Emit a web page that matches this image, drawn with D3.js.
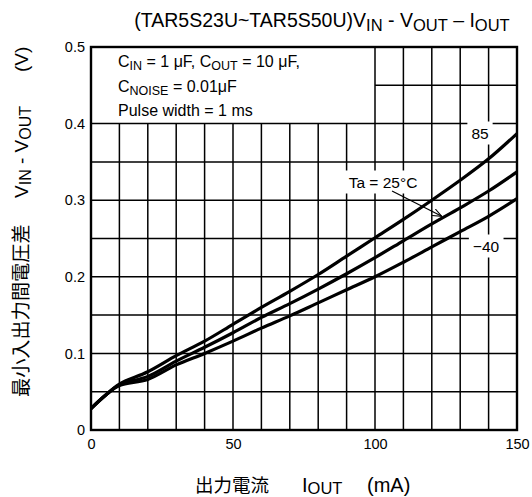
<!DOCTYPE html>
<html><head><meta charset="utf-8">
<script src="https://cdn.jsdelivr.net/npm/d3@7"></script>
<style>
html,body{margin:0;padding:0;background:#fff;}
text{font-family:"Liberation Sans",Arial,sans-serif;fill:#000;}
.cjk{font-family:"Noto Sans CJK JP","Liberation Sans",sans-serif;}
</style></head>
<body><svg id="c" width="532" height="497"></svg>
<script>
// ---- data ----
const iout = [0, 5, 10, 20, 30, 40, 50, 60, 70, 80, 90, 100, 110, 120, 130, 140, 150];
const v85  = [0.028, 0.045, 0.060, 0.076, 0.097, 0.116, 0.138, 0.160, 0.181, 0.203, 0.227, 0.251, 0.275, 0.300, 0.326, 0.354, 0.387];
const v25  = [0.028, 0.045, 0.059, 0.070, 0.090, 0.108, 0.127, 0.147, 0.165, 0.184, 0.204, 0.225, 0.247, 0.269, 0.290, 0.312, 0.337];
const vm40 = [0.028, 0.045, 0.058, 0.066, 0.085, 0.100, 0.116, 0.133, 0.149, 0.166, 0.183, 0.200, 0.219, 0.239, 0.259, 0.279, 0.302];
const xTicks = [0, 50, 100, 150];
const xTickLabels = ["0", "50", "100", "150"];
const yTicks = [0, 0.1, 0.2, 0.3, 0.4, 0.5];
const yTickLabels = ["0", "0.1", "0.2", "0.3", "0.4", "0.5"];
const seriesLabels = ["85", "Ta = 25°C", "\u221240"];

const svg = d3.select("#c");
const L = 91, R = 517, T = 47, B = 430;
const x = d3.scaleLinear().domain([0, 150]).range([L, R]);
const y = d3.scaleLinear().domain([0, 0.5]).range([B, T]);

// grid
const g = svg.append("g");
d3.range(10, 150, 10).forEach(v => {
  g.append("line").attr("x1", x(v)).attr("x2", x(v))
    .attr("y1", y(0)).attr("y2", v < 100 ? y(0.4) : y(0.5))
    .attr("stroke", "#000").attr("stroke-width", 1.5);
});
d3.range(0.05, 0.5, 0.05).forEach(v => {
  g.append("line").attr("x1", (v > 0.42) ? x(100) : x(0)).attr("x2", x(150))
    .attr("y1", y(v)).attr("y2", y(v))
    .attr("stroke", "#000").attr("stroke-width", 1.5);
});

// axes (labels only)
const xa = svg.append("g").attr("transform", `translate(0,${B})`)
  .call(d3.axisBottom(x).tickValues(xTicks).tickFormat((d, i) => xTickLabels[i]).tickSize(0).tickPadding(9));
const ya = svg.append("g").attr("transform", `translate(${L},0)`)
  .call(d3.axisLeft(y).tickValues(yTicks).tickFormat((d, i) => yTickLabels[i]).tickSize(0).tickPadding(6));
[xa, ya].forEach(a => { a.select(".domain").remove(); a.selectAll("text").attr("font-size", 14.5).attr("font-family", '"Liberation Sans",Arial,sans-serif'); });

// series labels with white backgrounds (drawn above grid, below curves)
function label(txt, cx, cy) {
  const gl = svg.append("g");
  const r = gl.append("rect").attr("fill", "#fff");
  const t = gl.append("text").attr("x", cx).attr("y", cy + 5.5).attr("text-anchor", "middle")
    .attr("font-size", 15.5).text(txt);
  const bb = t.node().getBBox();
  r.attr("x", bb.x - 4).attr("y", bb.y - 3).attr("width", bb.width + 8).attr("height", bb.height + 6);
}
label(seriesLabels[0], 480, 133);
label(seriesLabels[1], 383, 182);
label(seriesLabels[2], 486, 246);

// curves
const line = d3.line().x((d, i) => x(iout[i])).y(d => y(d)).curve(d3.curveCatmullRom.alpha(0.5));
[v85, v25, vm40].forEach(s => {
  svg.append("path").attr("d", line(s)).attr("fill", "none")
    .attr("stroke", "#000").attr("stroke-width", 3.2).attr("stroke-linejoin", "round");
});

// frame
svg.append("rect").attr("x", L).attr("y", T).attr("width", R - L).attr("height", B - T)
  .attr("fill", "none").attr("stroke", "#000").attr("stroke-width", 2.4);

function richParts(sel, parts, size, subSize, shift) {
  let prevSub = false;
  const sh = shift == null ? size * 0.22 : shift;
  parts.forEach(p => {
    const sub = !!p[1];
    const t = sel.append("tspan").text(p[0]).attr("font-size", sub ? subSize : size);
    if (sub && !prevSub) t.attr("dy", sh);
    if (!sub && prevSub) t.attr("dy", -sh);
    if (p[2]) t.attr("class", "cjk");
    prevSub = sub;
  });
}

// legend box text
const lt = [
  [["C", 0], ["IN", 1], [" = 1 \u03bcF, C", 0], ["OUT", 1], [" = 10 \u03bcF,", 0]],
  [["C", 0], ["NOISE", 1], [" = 0.01\u03bcF", 0]],
  [["Pulse width = 1 ms", 0]]
];
lt.forEach((parts, i) => {
  const t = svg.append("text").attr("x", 118).attr("y", 67 + i * 24.5);
  richParts(t, parts, 16, 12.5, 3);
});

// arrow
svg.append("defs").append("marker").attr("id", "ah").attr("viewBox", "0 0 10 10")
  .attr("refX", 10).attr("refY", 5).attr("markerWidth", 9).attr("markerHeight", 9)
  .attr("orient", "auto").attr("markerUnits", "userSpaceOnUse")
  .append("path").attr("d", "M0,1 L10,5 L0,9").attr("fill", "none").attr("stroke", "#000").attr("stroke-width", 1.2);
svg.append("line").attr("x1", x(106)).attr("y1", y(0.312)).attr("x2", x(123.5)).attr("y2", y(0.279))
  .attr("stroke", "#000").attr("stroke-width", 1.2).attr("marker-end", "url(#ah)");

// title
const tt = svg.append("text").attr("x", 322).attr("y", 27).attr("text-anchor", "middle");
richParts(tt, [["(TAR5S23U~TAR5S50U)V", 0], ["IN", 1], [" - V", 0], ["OUT", 1], [" \u2013 I", 0], ["OUT", 1]], 19.5, 16.5, 3.5);

// x title
svg.append("text").attr("class", "cjk").attr("x", 195).attr("y", 492).attr("font-size", 18.5).text("出力電流");
const xt2 = svg.append("text").attr("x", 302).attr("y", 492);
richParts(xt2, [["I", 0], ["OUT", 1]], 20, 16.5, 2);
svg.append("text").attr("x", 367).attr("y", 492).attr("font-size", 20).text("(mA)");

// y title (rotated, reading bottom to top)
const yg = svg.append("g").attr("transform", "translate(28,397) rotate(-90)");
yg.append("text").attr("class", "cjk").attr("x", 0).attr("y", 0).attr("font-size", 19.2).text("最小入出力間電圧差");
const yt2 = yg.append("text").attr("x", 199).attr("y", 0);
richParts(yt2, [["V", 0], ["IN", 1], [" - V", 0], ["OUT", 1]], 19, 16, 3);
yg.append("text").attr("x", 325).attr("y", 0).attr("font-size", 19).text("(V)");
</script></body></html>
